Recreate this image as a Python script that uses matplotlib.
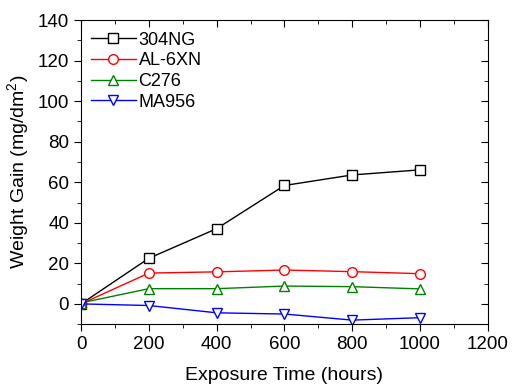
import matplotlib
matplotlib.use("Agg")
import matplotlib.pyplot as plt
from matplotlib.ticker import MultipleLocator

plt.rcParams['font.family'] = ['Liberation Sans', 'DejaVu Sans']
plt.rcParams['mathtext.fontset'] = 'custom'
plt.rcParams['mathtext.rm'] = 'Liberation Sans'
plt.rcParams['mathtext.it'] = 'Liberation Sans'

hours = [0, 200, 400, 600, 800, 1000]
ng304 = [0, 22.5, 37.1, 58.4, 63.6, 66.1]
al6xn = [0, 15.2, 15.8, 16.7, 15.9, 14.9]
c276 = [0.5, 7.5, 7.5, 8.8, 8.5, 7.4]
ma956 = [0, -0.8, -4.4, -5.0, -8.0, -6.8]

series = [("304NG", ng304, 's', 'black'),
          ("AL-6XN", al6xn, 'o', 'red'),
          ("C276", c276, '^', 'green'),
          ("MA956", ma956, 'v', 'blue')]

fig = plt.figure(figsize=(5.13, 3.85), dpi=100)
ax = fig.add_axes([0.158, 0.158, 0.793, 0.79])

for name, vals, m, c in series:
    ax.plot(hours, vals, marker=m, color=c, mfc='white', mec=c, ms=7,
            lw=1.0, mew=1.0, label=name)

ax.set_xlim(0, 1200)
ax.set_ylim(-10, 140)
ax.xaxis.set_major_locator(MultipleLocator(200))
ax.xaxis.set_minor_locator(MultipleLocator(100))
ax.set_yticks([0, 20, 40, 60, 80, 100, 120, 140])
ax.yaxis.set_minor_locator(MultipleLocator(10))
ax.tick_params(which='both', direction='out', labelsize=13.5, top=False, right=False)
ax.tick_params(which='major', length=5)
ax.tick_params(which='minor', length=3)
ax.tick_params(which='both', top=True, right=True, labeltop=False, labelright=False)
for t in ax.xaxis.get_major_ticks() + ax.xaxis.get_minor_ticks():
    t.tick2line.set_marker(3)
for t in ax.yaxis.get_major_ticks() + ax.yaxis.get_minor_ticks():
    t.tick2line.set_marker(0)

ax.set_xlabel("Exposure Time (hours)", fontsize=14, labelpad=10)
ax.set_ylabel("Weight Gain (mg/dm$^{2}$)", fontsize=14, labelpad=5)

ax.legend(loc='upper left', frameon=False, fontsize=13, handlelength=2.5,
          handletextpad=0.15, labelspacing=0.2, borderaxespad=0.25,
          bbox_to_anchor=(-0.005, 1.0))

fig.savefig("out.png", dpi=100)
